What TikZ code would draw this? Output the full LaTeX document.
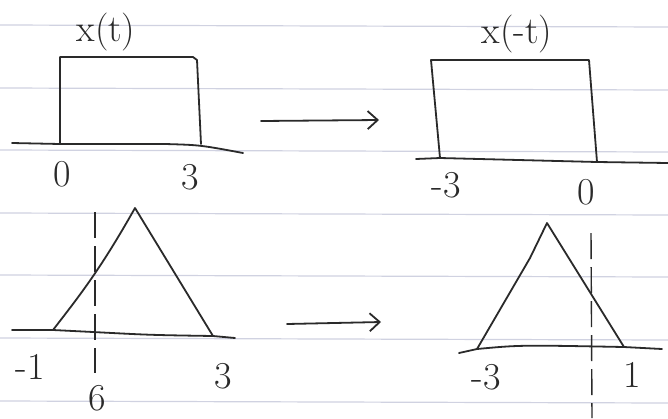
\documentclass[tikz,border=0pt]{standalone}
\usepackage{tikz}
\usetikzlibrary{arrows.meta}
\definecolor{ink}{RGB}{42,42,42}
\definecolor{ruling}{RGB}{208,210,225}

\begin{document}
\begin{tikzpicture}[x=0.5pt,y=-0.5pt,>={Straight Barb[length=5pt,width=9pt]},
  sketch/.style={draw=ink,line width=0.9pt,line cap=round,line join=round},
  guide/.style={draw=ink,line width=0.7pt,dash pattern=on 13pt off 4pt},
  lbl/.style={text=ink,font=\fontsize{19}{22}\selectfont,inner sep=0pt}]
  \useasboundingbox (0,0) rectangle (668,418);
  \fill[white] (0,0) rectangle (668,418);
  % ruled paper
  \foreach \y in {25,88,150,213,275,338,401}
    \draw[ruling,line width=0.6pt] (0,\y) -- (668,\y+2);

  % x(t): box from 0 to 3
  \coordinate (boxL) at (60,144);
  \coordinate (boxR) at (201,144);
  \draw[sketch] (12,143) -- (boxL) -- (165,144) .. controls (200,145) .. (243,153);
  \draw[sketch] (boxL) -- (60,57) -- (193,57) -- (197,60) -- (boxR);
  \node[lbl] (xt) at (106,32) {x(t)};
  \node[lbl] (xtzero) at (62,174) {0};
  \node[lbl] (xtthree) at (190,177) {3};

  \coordinate (topA) at (261,121);
  \coordinate (topB) at (379,120);
  \draw[sketch,->] (topA) -- (topB);

  % x(-t): box from -3 to 0
  \coordinate (flipL) at (440,158);
  \coordinate (flipR) at (597,162);
  \draw[sketch] (416,159) -- (flipL) -- (flipR) -- (668,163);
  \draw[sketch] (flipL) -- (431,60) -- (589,60) -- (flipR);
  \node[lbl] (xmt) at (517,34) {x(-t)};
  \node[lbl] (xmtthree) at (446,185) {-3};
  \node[lbl] (xmtzero) at (586,192) {0};

  % triangle from -1 to 3
  \coordinate (triL) at (53,330);
  \coordinate (triT) at (135,208);
  \coordinate (triR) at (213,336);
  \draw[sketch] (12,330) -- (triL) -- (93,332) .. controls (150,335) .. (triR) -- (235,338);
  \draw[sketch] (triL) .. controls (80,295) and (100,270) .. (triT) -- (triR);
  \draw[guide] (95,212) -- (95,373);
  \node[lbl] (triminus) at (30,367) {-1};
  \node[lbl] (trithree) at (223,376) {3};
  \node[lbl] (trizero) at (97,398) {6};

  \coordinate (botA) at (287,324);
  \coordinate (botB) at (381,322);
  \draw[sketch,->] (botA) -- (botB);

  % flipped triangle from -3 to 1
  \coordinate (ftL) at (477,349);
  \coordinate (ftT) at (547,223);
  \coordinate (ftR) at (624,347);
  \draw[sketch] (459,353) -- (ftL) .. controls (520,345) .. (ftR) -- (662,349);
  \draw[sketch] (ftL) -- (530,258) -- (ftT) -- (ftR);
  \draw[guide] (591,233) -- (592,418);
  \node[lbl] (ftthree) at (486,377) {-3};
  \node[lbl] (ftone) at (632,375) {1};
\end{tikzpicture}
\end{document}
